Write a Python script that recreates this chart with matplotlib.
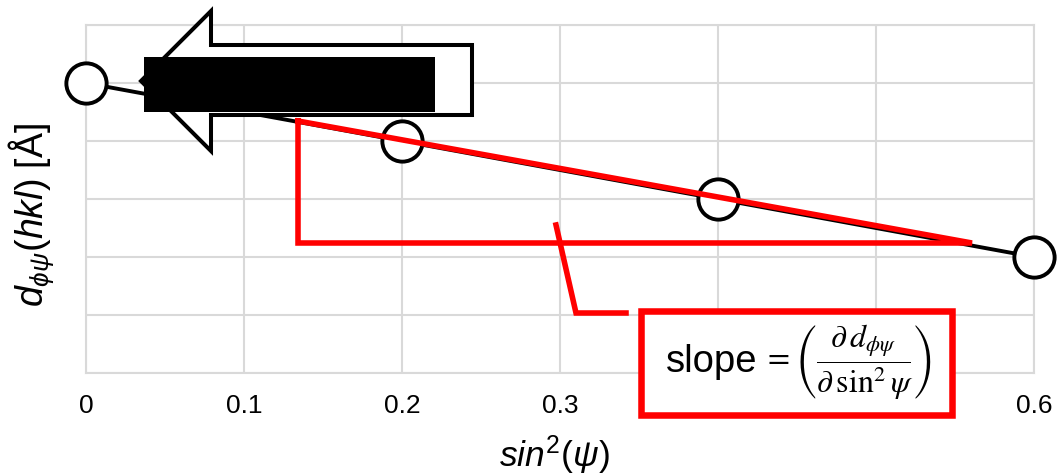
import matplotlib
matplotlib.use('Agg')
import matplotlib.pyplot as plt
from matplotlib.lines import Line2D
from matplotlib.patches import Polygon, Rectangle

# data
sin2_psi = [0.0, 0.2, 0.4, 0.6]
d_spacing = [5, 4, 3, 2]
x_ticks = [0, 0.1, 0.2, 0.3, 0.4, 0.5, 0.6]
# 0.4 and 0.5 sit behind the formula box in the picture
x_tick_labels = ['0', '0.1', '0.2', '0.3', '', '', '0.6']

W, H = 1059, 475

plt.rcParams['font.family'] = ['Liberation Sans', 'DejaVu Sans']
plt.rcParams['mathtext.fontset'] = 'custom'
plt.rcParams['mathtext.rm'] = 'Liberation Sans'
plt.rcParams['mathtext.it'] = 'Liberation Sans:italic'
plt.rcParams['mathtext.bf'] = 'Liberation Sans:bold'


def fpx(x, y):
    # pixel position in the picture -> figure fraction
    return (x / W, 1 - y / H)


fig = plt.figure(figsize=(W / 100, H / 100), dpi=100)
ax = fig.add_axes([86 / W, 1 - 373 / H, (1034 - 86) / W, (373 - 25) / H])

grid_col = '#d9d9d9'
ax.set_xlim(0, 0.6)
ax.set_ylim(0, 6)
ax.set_xticks(x_ticks)
ax.set_xticklabels(x_tick_labels)
ax.set_yticks(range(7))
ax.set_yticklabels([])
ax.tick_params(length=0, labelsize=19, pad=15)
ax.grid(True, color=grid_col, lw=1.5)
ax.set_axisbelow(True)
for s in ax.spines.values():
    s.set_color(grid_col)
    s.set_linewidth(1.5)

ax.plot(sin2_psi, d_spacing, color='black', lw=2.8, marker='o', ms=29,
        mfc='white', mec='black', mew=2.8, clip_on=False, zorder=3)

# outlined arrow pointing left
arrow_px = [(141, 81), (211, 11), (211, 45), (472, 45), (472, 115),
            (211, 115), (211, 151)]
arrow = Polygon([fpx(*p) for p in arrow_px], closed=True, facecolor='white',
                edgecolor='black', lw=2.9, joinstyle='miter',
                transform=fig.transFigure, zorder=4)
fig.add_artist(arrow)

# black filled block
x0, y0 = fpx(144, 112)
x1, y1 = fpx(435, 57)
fig.add_artist(Rectangle((x0, y0), x1 - x0, y1 - y0, facecolor='black',
                         edgecolor='none', transform=fig.transFigure, zorder=5))

# red slope triangle
tri_px = [(298, 121), (298, 243), (972, 243), (298, 121)]
tx, ty = zip(*[fpx(*p) for p in tri_px])
fig.add_artist(Line2D(tx, ty, color='red', lw=4, solid_joinstyle='miter',
                      transform=fig.transFigure, zorder=6))

# callout line
call_px = [(556, 225), (576, 313), (626, 313)]
cx, cy = zip(*[fpx(*p) for p in call_px])
fig.add_artist(Line2D(cx, cy, color='red', lw=4, solid_joinstyle='miter',
                      transform=fig.transFigure, zorder=6))

# formula box
bx0, by0 = fpx(641, 415)
bx1, by1 = fpx(952, 311)
fig.add_artist(Rectangle((bx0, by0), bx1 - bx0, by1 - by0, facecolor='white',
                         edgecolor='red', lw=4.7, joinstyle='miter',
                         transform=fig.transFigure, zorder=6))
sx, sy = fpx(666, 372)
fig.text(sx, sy, 'slope', fontsize=27.5, ha='left', va='baseline', zorder=7)
fx, fy = fpx(763, 362)
fig.text(fx, fy, r'$=\left(\dfrac{\partial\,d_{\phi\psi}}{\partial\,\sin^{2}\psi}\right)$',
         fontsize=23, ha='left', va='center', math_fontfamily='stix', zorder=7)

# axis titles
lx, ly = fpx(31, 215)
fig.text(lx, ly, r'$\mathit{d}_{\phi\psi}\mathit{(hkl)}$ [Å]', fontsize=27,
         rotation=90, ha='center', va='center')
xx, xy = fpx(554, 455)
fig.text(xx, xy, r'$\mathit{sin}^{2}\mathit{(\psi)}$', fontsize=25.5,
         ha='center', va='center')

fig.savefig('out.png', dpi=100)
